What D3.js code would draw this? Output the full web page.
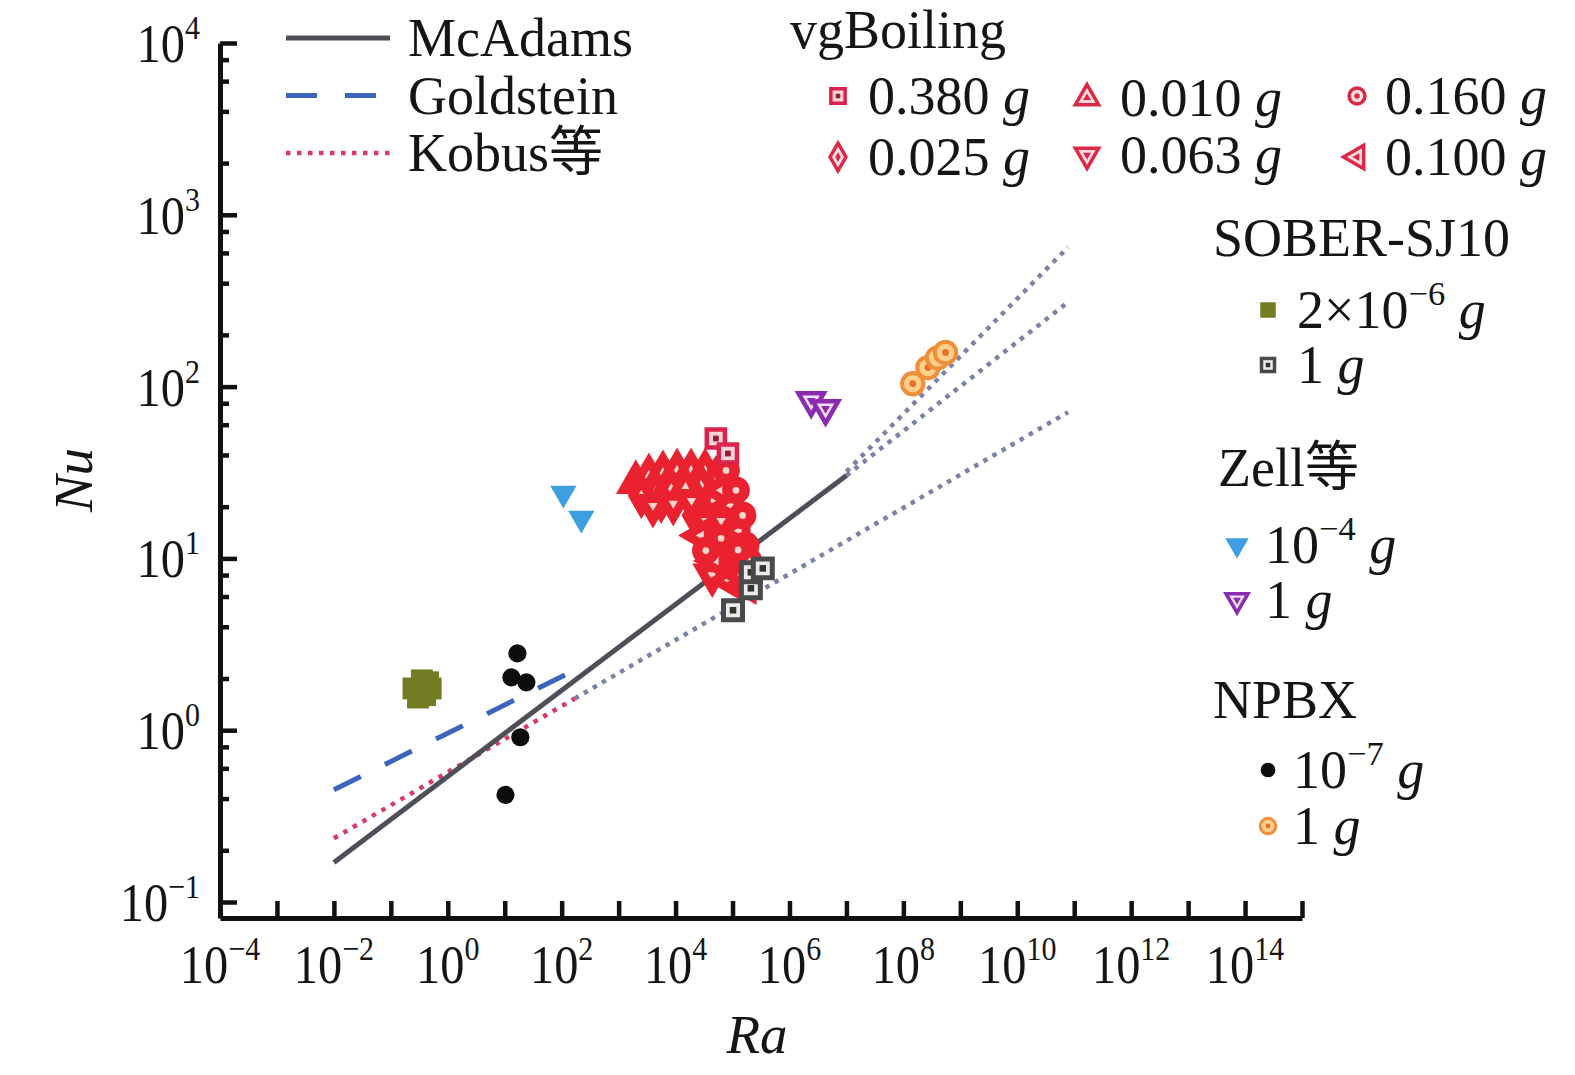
<!DOCTYPE html>
<html>
<head>
<meta charset="utf-8">
<script src="https://cdn.jsdelivr.net/npm/d3@7"></script>
<style>
  body { margin: 0; background: #fff; }
  text { font-family: "Liberation Serif", "Times New Roman", "Noto Sans CJK SC", serif; fill: #151515; }
</style>
</head>
<body>
<svg id="chart" width="1575" height="1075"></svg>
<script>
// tick labels (powers of ten)
const xLabelPowers = [-4, -2, 0, 2, 4, 6, 8, 10, 12, 14];
const xTickPowers = d3.range(-4, 16);
const yLabelPowers = [-1, 0, 1, 2, 3, 4];
const yMinorMult = [2, 4, 6, 8];

// correlations  [Ra, Nu]
const mcAdams = [[1e-2, 0.17], [1e7, 30.4]];
const goldstein = [[1e-2, 0.45], [200, 2.3]];
const kobus = [[1e-2, 0.235], [170, 1.53]];
const kobusExt = [[170, 1.53], [7.8e10, 71]];
const mcAdamsExt = [[1e7, 30.4], [7.8e10, 310]];
const turbExt = [[1e7, 32], [7.8e10, 648]];

// measured points  [Ra, Nu]
const soberLow = [[0.25, 1.75], [0.35, 1.95], [0.45, 1.9], [0.3, 1.55], [0.4, 1.6], [0.5, 1.75]];
const soberHigh = [[1.02e5, 4.99], [2.1e5, 6.7], [2.1e5, 8.3], [3.4e5, 8.75]];
const zellLow = [[107, 23.9], [221, 17.1]];
const zellHigh = [[2.4e6, 83], [4.3e6, 74.5]];
const npbxLow = [[16.7, 2.8], [13.1, 2.03], [24, 1.9], [18.8, 0.91], [10.3, 0.42]];
const npbxHigh = [[1.46e8, 104], [2.7e8, 129], [4e8, 147], [5.5e8, 158]];
const vg380 = [[5.1e4, 49.9], [8.3e4, 40.8]];
const vg010 = [[2.0e3, 27.7], [3.4e3, 30.4], [6.0e3, 31.6], [1.06e4, 32.5], [1.87e4, 32.5], [3.3e4, 32.5],
               [4.6e3, 24.9], [8.4e3, 25.5], [1.5e4, 25.9]];
const vg025 = [[2.5e3, 23.2], [5.6e3, 21.7], [2.8e4, 26.6], [5.1e4, 29.2], [4.6e4, 21.7], [2.6e4, 20.3],
               [2.2e4, 17.8], [8.3e4, 15.6]];
const vg063 = [[4.0e3, 20.3], [9.1e3, 20.9], [1.9e4, 21.7], [3.4e4, 16.6], [6.3e4, 16.6], [4.2e4, 11.9],
               [7.7e4, 10.4], [1.15e5, 8.5], [4.4e4, 8.0]];
const vg100 = [[6.3e4, 24.9], [9.4e4, 20.3], [1.3e5, 14.5], [2.8e4, 13.6], [5.1e4, 9.7], [8.7e4, 7.45],
               [1.5e5, 8.0], [1.66e5, 7.0]];
const vg160 = [[7.7e4, 32.5], [1.15e5, 24.9], [1.5e5, 17.8], [1.7e5, 11.9], [1.9e5, 9.7], [3.4e4, 11.1],
               [6.3e4, 13.1], [1.25e5, 11.2]];

const svg = d3.select("#chart");
const x = d3.scaleLog().domain([1e-4, 1e15]).range([220, 1302]);
const y = d3.scaleLog().domain([Math.pow(10, -1.0931), 1e4]).range([918, 43]);

const line = d3.line().x(d => x(d[0])).y(d => y(d[1]));

function drawLine(data, color, width, dash) {
  svg.append("path").datum(data)
    .attr("d", line)
    .attr("fill", "none")
    .attr("stroke", color)
    .attr("stroke-width", width)
    .attr("stroke-dasharray", dash || null);
}

const dotGray = "#7a82a5";
drawLine(turbExt, dotGray, 4.5, "4.5 6");
drawLine(mcAdamsExt, dotGray, 4.5, "4.5 6");
drawLine(kobusExt, dotGray, 4.5, "4.5 6");
drawLine(kobus, "#d93a6a", 4.5, "4.5 6.5");
drawLine(goldstein, "#3c66bb", 5, "30 27");
drawLine(mcAdams, "#4e4f58", 5);

// marker helper
function mark(g, st) {
  g.append("path")
    .attr("d", d3.symbol(st.type, st.size)())
    .attr("transform", `rotate(${st.rot || 0})`)
    .attr("fill", st.fill)
    .attr("stroke", st.stroke || "none")
    .attr("stroke-width", st.sw || 0);
  if (st.inner) {
    g.append("path")
      .attr("d", d3.symbol(st.type, st.size * (st.innerScale || 0.1))())
      .attr("transform", `rotate(${st.rot || 0})`)
      .attr("fill", st.inner);
  }
}

function drawSeries(data, st) {
  svg.append("g").selectAll("g").data(data).enter().append("g")
    .attr("transform", d => `translate(${x(d[0])},${y(d[1])})`)
    .each(function () { mark(d3.select(this), st); });
}

const red = "#ea2230";
const blob = { fill: red, stroke: red, sw: 4, inner: "#fbd6cc", innerScale: 0.08 };
const styles = {
  soberLow: { type: d3.symbolSquare, size: 480, fill: "#737c22" },
  soberHigh: { type: d3.symbolSquare, size: 360, fill: "#ececec", stroke: "#4a4a4a", sw: 5, inner: "#333", innerScale: 0.12 },
  zellLow: { type: d3.symbolTriangle, rot: 180, size: 300, fill: "#3d9ee0" },
  zellHigh: { type: d3.symbolTriangle, rot: 180, size: 280, fill: "#f3e0f7", stroke: "#8b2bb0", sw: 4.5, inner: "#8b2bb0", innerScale: 0.12 },
  npbxLow: { type: d3.symbolCircle, size: 260, fill: "#0d0d0d" },
  npbxHigh: { type: d3.symbolCircle, size: 360, fill: "#fbd08d", stroke: "#f08f3a", sw: 4, inner: "#e5702b", innerScale: 0.1 },
  vg380: { type: d3.symbolSquare, size: 330, fill: "#f8d4da", stroke: "#d8234a", sw: 4.5, inner: "#9a1a30", innerScale: 0.1 },
  vg010: Object.assign({ type: d3.symbolTriangle, size: 470 }, blob),
  vg025: Object.assign({ type: d3.symbolDiamond, size: 440 }, blob),
  vg063: Object.assign({ type: d3.symbolTriangle, rot: 180, size: 470 }, blob),
  vg100: Object.assign({ type: d3.symbolTriangle, rot: -90, size: 470 }, blob),
  vg160: Object.assign({ type: d3.symbolCircle, size: 440 }, blob)
};

drawSeries(soberLow, styles.soberLow);
drawSeries(npbxLow, styles.npbxLow);
drawSeries(zellLow, styles.zellLow);
drawSeries(zellHigh, styles.zellHigh);
drawSeries(npbxHigh, styles.npbxHigh);
drawSeries(vg010, styles.vg010);
drawSeries(vg025, styles.vg025);
drawSeries(vg063, styles.vg063);
drawSeries(vg100, styles.vg100);
drawSeries(vg160, styles.vg160);
drawSeries(vg380, styles.vg380);
drawSeries(soberHigh, styles.soberHigh);

// axes
const axisColor = "#111";
const gx = svg.append("g").attr("transform", "translate(0,918)")
  .call(d3.axisBottom(x).tickValues(xTickPowers.map(p => Math.pow(10, p)))
    .tickSizeInner(-17).tickSizeOuter(0).tickFormat(""));

const yTicks = [];
yLabelPowers.forEach(p => {
  yTicks.push(Math.pow(10, p));
  if (p < 4) yMinorMult.forEach(m => yTicks.push(m * Math.pow(10, p)));
});
const gy = svg.append("g").attr("transform", "translate(220,0)")
  .call(d3.axisLeft(y).tickValues(yTicks)
    .tickSizeInner(-9).tickSizeOuter(0).tickFormat(""));

const isMajor = v => Math.abs(Math.log10(v) - Math.round(Math.log10(v))) < 1e-6;
gy.selectAll(".tick line").attr("x2", d => isMajor(d) ? 17 : 9);

[gx, gy].forEach(g => {
  g.select(".domain").attr("stroke", axisColor).attr("stroke-width", 5);
  g.selectAll(".tick line").attr("stroke", axisColor).attr("stroke-width", 4.5);
  g.selectAll(".tick text").remove();
});

const minus = "\u2212";
function powLabel(px, py, p, size, anchor) {
  const t = svg.append("text").attr("transform", `translate(${px},${py}) scale(0.88,1)`)
    .attr("font-size", size).attr("text-anchor", anchor);
  t.append("tspan").text("10");
  t.append("tspan").attr("font-size", size * 0.62).attr("dy", -size * 0.42)
    .text(p < 0 ? minus + Math.abs(p) : String(p));
}
xLabelPowers.forEach(p => powLabel(x(Math.pow(10, p)), 983, p, 55, "middle"));
yLabelPowers.forEach(p => powLabel(200, y(Math.pow(10, p)) + 19, p, 55, "end"));

// axis titles
svg.append("text").attr("x", 757).attr("y", 1053).attr("text-anchor", "middle")
  .attr("font-size", 55).attr("font-style", "italic").text("Ra");
svg.append("text").attr("transform", "translate(92,480) rotate(-90)").attr("text-anchor", "middle")
  .attr("font-size", 55).attr("font-style", "italic").text("Nu");

// legend
const LF = 54;
function legText(px, py, parts) {
  const t = svg.append("text").attr("x", px).attr("y", py).attr("font-size", LF);
  parts.forEach(pt => {
    const s = t.append("tspan").text(pt.t);
    if (pt.sup) s.attr("font-size", LF * 0.64).attr("dy", -LF * 0.42);
    if (pt.back) s.attr("dy", LF * 0.42);
    if (pt.it) s.attr("font-style", "italic");
  });
}
const nb = "\u00a0";
const gUnit = [{ t: nb }, { t: "g", it: true }];

// line legend
const lineLeg = [
  { name: "McAdams", color: "#4e4f58", dash: null, w: 5 },
  { name: "Goldstein", color: "#3c66bb", dash: "31 28", w: 5 },
  { name: "Kobus等", color: "#d93a6a", dash: "4.5 6.5", w: 4.5 }
];
lineLeg.forEach((d, i) => {
  const yy = 38 + i * 57.5;
  svg.append("line").attr("x1", 286).attr("x2", 390).attr("y1", yy).attr("y2", yy)
    .attr("stroke", d.color).attr("stroke-width", d.w).attr("stroke-dasharray", d.dash);
  legText(408, yy + 18, [{ t: d.name }]);
});

// vgBoiling legend
legText(790, 48, [{ t: "vgBoiling" }]);
const legRed = { fill: "#fbe0e3", stroke: "#dc2844", inner: "#dc2844", innerScale: 0.12 };
const small = (s, k) => Object.assign({}, s, { size: s.size * k, sw: 3.5 });
const vgLeg = [
  { st: small(styles.vg380, 0.62), label: "0.380", cx: 838, cy: 96, tx: 868 },
  { st: small(Object.assign({}, styles.vg010, legRed), 0.5), label: "0.010", cx: 1087, cy: 98, tx: 1120 },
  { st: small(Object.assign({}, styles.vg160, legRed), 0.45), label: "0.160", cx: 1357, cy: 96, tx: 1385 },
  { st: small(Object.assign({}, styles.vg025, legRed), 0.5), label: "0.025", cx: 838, cy: 157, tx: 868 },
  { st: small(Object.assign({}, styles.vg063, legRed), 0.5), label: "0.063", cx: 1087, cy: 155, tx: 1120 },
  { st: small(Object.assign({}, styles.vg100, legRed), 0.5), label: "0.100", cx: 1357, cy: 157, tx: 1385 }
];
vgLeg.forEach(d => {
  mark(svg.append("g").attr("transform", `translate(${d.cx},${d.cy})`), d.st);
  legText(d.tx, d.cy + 18, [{ t: d.label }].concat(gUnit));
});

// right legend
legText(1213, 256, [{ t: "SOBER-SJ10" }]);
mark(svg.append("g").attr("transform", "translate(1268,310)"), Object.assign({}, styles.soberLow, { size: 240 }));
legText(1297, 328, [{ t: "2×10" }, { t: minus + "6", sup: true }, { t: nb, back: true }, { t: "g", it: true }]);
mark(svg.append("g").attr("transform", "translate(1268,365)"), Object.assign({}, styles.soberHigh, { size: 170, sw: 3.5 }));
legText(1297, 383, [{ t: "1" }].concat(gUnit));

legText(1218, 486, [{ t: "Zell等" }]);
mark(svg.append("g").attr("transform", "translate(1237,545)"), Object.assign({}, styles.zellLow, { size: 240 }));
legText(1265, 563, [{ t: "10" }, { t: minus + "4", sup: true }, { t: nb, back: true }, { t: "g", it: true }]);
mark(svg.append("g").attr("transform", "translate(1237,600)"), Object.assign({}, styles.zellHigh, { size: 210, sw: 3.5 }));
legText(1265, 618, [{ t: "1" }].concat(gUnit));

legText(1213, 718, [{ t: "NPBX" }]);
mark(svg.append("g").attr("transform", "translate(1268,770)"), Object.assign({}, styles.npbxLow, { size: 170 }));
legText(1293, 788, [{ t: "10" }, { t: minus + "7", sup: true }, { t: nb, back: true }, { t: "g", it: true }]);
mark(svg.append("g").attr("transform", "translate(1268,826)"), Object.assign({}, styles.npbxHigh, { size: 190, sw: 3 }));
legText(1293, 844, [{ t: "1" }].concat(gUnit));
</script>
</body>
</html>
